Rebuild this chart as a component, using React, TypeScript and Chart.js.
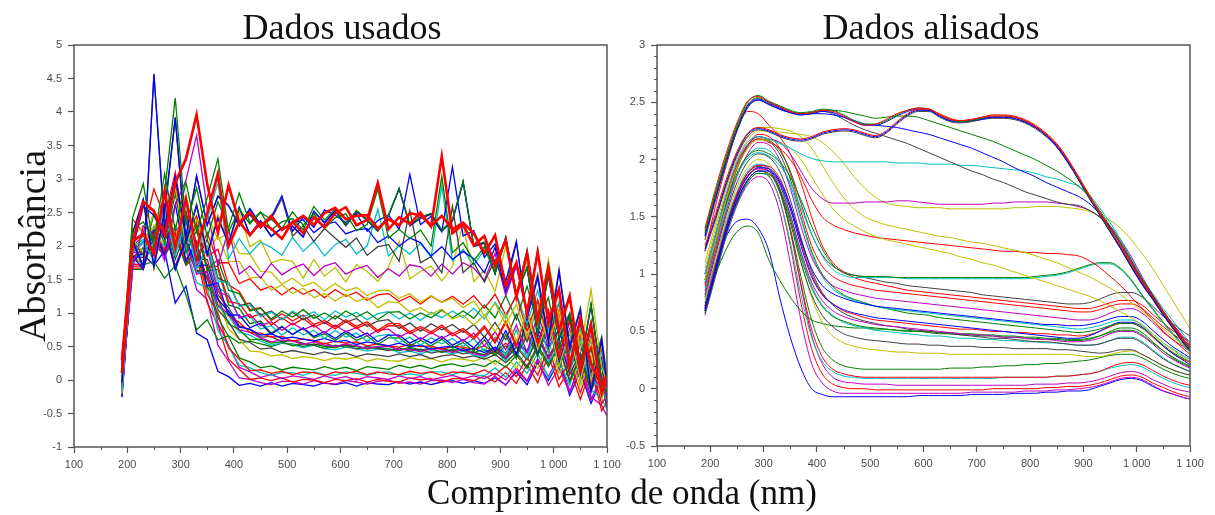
import React, { useEffect, useRef } from 'react';
import { Chart, registerables } from 'chart.js';

Chart.register(...registerables);

// Line colours (classic plot colour order)
const BLUE = '#0000ff';
const GREEN = '#008000';
const RED = '#ff0000';
const CYAN = '#00bfbf';
const MAGENTA = '#bf00bf';
const YELLOW = '#bfbf00';
const GRAY = '#404040';
const AXIS = '#555555';

// Wavelength grid (nm)
const WAVELENGTHS = [
  190, 210, 230, 250, 270, 290, 310, 330, 350, 370,
  390, 410, 430, 450, 470, 490, 510, 530, 550, 570,
  590, 610, 630, 650, 670, 690, 710, 730, 750, 770,
  790, 810, 830, 850, 870, 890, 910, 930, 950, 970,
  990, 1010, 1030, 1050, 1070, 1090, 1100,
];

const MINOR_X = [150, 250, 350, 450, 550, 650, 750, 850, 950, 1050];
const RIGHT_MINOR_Y = [
  -0.4, -0.3, -0.2, -0.1, 0.1, 0.2, 0.3, 0.4, 0.6, 0.7, 0.8, 0.9, 1.1, 1.2,
  1.3, 1.4, 1.6, 1.7, 1.8, 1.9, 2.1, 2.2, 2.3, 2.4, 2.6, 2.7, 2.8, 2.9,
];

// ---- Smoothed absorbance spectra ----
const T_GREEN = [1.38,1.72,2.03,2.3,2.5,2.56,2.51,2.47,2.43,2.41, 2.42,2.44,2.43,2.39,2.34,2.31,2.31,2.34,2.39,2.43, 2.45,2.44,2.39,2.35,2.33,2.34,2.36,2.38,2.38,2.37, 2.34,2.29,2.22,2.13,2.0,1.84,1.68,1.53,1.38,1.24, 1.08,0.93,0.8,0.66,0.53,0.4,0.35];
const T_BLUE = [1.34,1.68,2.0,2.27,2.47,2.53,2.49,2.45,2.41,2.39, 2.4,2.42,2.41,2.37,2.33,2.3,2.3,2.33,2.38,2.42, 2.44,2.43,2.38,2.34,2.33,2.34,2.35,2.37,2.37,2.36, 2.33,2.28,2.21,2.11,1.98,1.83,1.67,1.52,1.37,1.22, 1.06,0.91,0.78,0.64,0.52,0.39,0.34];
const T_RED = [1.4,1.75,2.06,2.32,2.51,2.55,2.5,2.46,2.42,2.4, 2.41,2.43,2.42,2.38,2.33,2.3,2.31,2.35,2.4,2.43, 2.45,2.44,2.4,2.36,2.34,2.35,2.37,2.39,2.39,2.38, 2.35,2.3,2.23,2.14,2.01,1.86,1.7,1.55,1.4,1.26, 1.1,0.95,0.81,0.67,0.54,0.42,0.37];
const T2_BLUE = [1.22,1.5,1.8,2.05,2.22,2.27,2.25,2.21,2.18,2.17, 2.19,2.23,2.25,2.26,2.25,2.22,2.2,2.24,2.32,2.39, 2.43,2.43,2.38,2.34,2.33,2.34,2.36,2.37,2.37,2.36, 2.33,2.28,2.21,2.12,1.99,1.84,1.68,1.53,1.38,1.23, 1.07,0.92,0.79,0.65,0.52,0.39,0.34];
const T2_RED = [1.25,1.53,1.83,2.07,2.23,2.28,2.26,2.22,2.19,2.18, 2.2,2.24,2.26,2.27,2.26,2.23,2.21,2.25,2.33,2.4, 2.44,2.44,2.39,2.35,2.34,2.35,2.37,2.38,2.38,2.37, 2.34,2.29,2.22,2.13,2.0,1.85,1.69,1.54,1.39,1.24, 1.08,0.93,0.8,0.66,0.53,0.4,0.35];
const T2_GRAY = [1.2,1.48,1.78,2.03,2.2,2.26,2.24,2.2,2.17,2.16, 2.18,2.22,2.24,2.25,2.24,2.21,2.19,2.23,2.31,2.38, 2.42,2.42,2.37,2.33,2.32,2.33,2.35,2.36,2.36,2.35, 2.32,2.27,2.2,2.11,1.98,1.83,1.67,1.52,1.37,1.22, 1.06,0.91,0.78,0.64,0.51,0.38,0.33];
const TG_GREEN = [1.36,1.7,2.01,2.28,2.48,2.54,2.5,2.46,2.42,2.4, 2.41,2.43,2.43,2.42,2.4,2.38,2.36,2.37,2.38,2.38, 2.37,2.34,2.31,2.28,2.25,2.22,2.19,2.16,2.12,2.08, 2.04,2.0,1.95,1.9,1.84,1.77,1.68,1.56,1.42,1.27, 1.11,0.95,0.81,0.67,0.54,0.41,0.36];
const TB_BLUE = [1.33,1.67,1.99,2.26,2.46,2.52,2.48,2.44,2.41,2.39, 2.4,2.4,2.39,2.37,2.34,2.31,2.3,2.29,2.28,2.26, 2.24,2.22,2.19,2.16,2.13,2.1,2.06,2.02,1.98,1.93, 1.89,1.85,1.8,1.76,1.72,1.68,1.62,1.53,1.41,1.26, 1.1,0.94,0.8,0.66,0.53,0.4,0.35];
const TK_GRAY = [1.3,1.65,1.97,2.25,2.45,2.52,2.48,2.44,2.41,2.4, 2.41,2.42,2.4,2.35,2.3,2.26,2.23,2.2,2.17,2.14, 2.1,2.06,2.02,1.98,1.94,1.9,1.87,1.83,1.8,1.76, 1.72,1.69,1.66,1.63,1.61,1.6,1.56,1.5,1.41,1.28, 1.12,0.96,0.82,0.68,0.55,0.42,0.37];
const M1_CYAN = [1.0,1.35,1.7,1.98,2.15,2.2,2.18,2.14,2.1,2.05, 2.01,1.99,1.98,1.98,1.98,1.98,1.98,1.98,1.97,1.97, 1.97,1.96,1.96,1.96,1.95,1.95,1.94,1.93,1.92,1.91, 1.9,1.88,1.85,1.83,1.8,1.77,1.7,1.58,1.45,1.3, 1.13,0.97,0.83,0.7,0.58,0.46,0.4];
const M2_MAGENTA = [1.0,1.35,1.7,1.97,2.13,2.2,2.18,2.15,2.05,1.9, 1.75,1.66,1.62,1.62,1.62,1.63,1.63,1.63,1.64,1.64, 1.63,1.62,1.61,1.61,1.61,1.61,1.61,1.62,1.62,1.63, 1.63,1.63,1.63,1.62,1.61,1.59,1.56,1.5,1.42,1.3, 1.15,0.98,0.82,0.67,0.55,0.44,0.38];
const Y1_YELLOW = [1.05,1.4,1.75,2.0,2.17,2.25,2.25,2.24,2.23,2.22, 2.2,2.15,2.07,1.97,1.85,1.75,1.67,1.62,1.6,1.59, 1.58,1.58,1.58,1.57,1.57,1.57,1.57,1.57,1.57,1.58, 1.58,1.59,1.59,1.59,1.58,1.57,1.55,1.51,1.47,1.4, 1.3,1.18,1.05,0.9,0.75,0.6,0.52];
const Y2_YELLOW = [1.1,1.45,1.8,2.05,2.2,2.28,2.28,2.27,2.25,2.2, 2.1,1.95,1.8,1.67,1.57,1.5,1.46,1.43,1.41,1.39, 1.37,1.35,1.33,1.32,1.3,1.28,1.27,1.25,1.23,1.21, 1.19,1.16,1.13,1.1,1.06,1.02,0.98,0.93,0.88,0.82, 0.75,0.68,0.6,0.52,0.44,0.37,0.33];
const Y3_YELLOW = [0.95,1.3,1.65,1.93,2.1,2.17,2.17,2.15,2.1,2.0, 1.85,1.7,1.57,1.48,1.42,1.37,1.33,1.3,1.28,1.26, 1.24,1.22,1.2,1.18,1.15,1.13,1.1,1.08,1.05,1.02, 0.99,0.96,0.93,0.9,0.87,0.84,0.81,0.77,0.72,0.67, 0.62,0.55,0.48,0.4,0.33,0.27,0.24];
const M5_RED = [1.0,1.35,1.68,1.95,2.12,2.18,2.15,2.1,2.0,1.85, 1.65,1.5,1.43,1.39,1.36,1.34,1.32,1.31,1.3,1.29, 1.28,1.27,1.26,1.25,1.24,1.23,1.22,1.21,1.2,1.2, 1.19,1.19,1.18,1.18,1.17,1.16,1.12,1.06,0.98,0.9, 0.8,0.7,0.6,0.5,0.42,0.34,0.3];
const M7_GREEN = [0.95,1.3,1.62,1.88,2.03,2.08,2.05,1.98,1.85,1.65, 1.42,1.22,1.08,1.01,0.99,0.98,0.98,0.98,0.97,0.97, 0.97,0.97,0.97,0.97,0.97,0.97,0.97,0.97,0.97,0.97, 0.97,0.98,0.99,1.0,1.02,1.05,1.08,1.1,1.1,1.05, 0.95,0.82,0.7,0.58,0.47,0.37,0.33];
const M7_CYAN = [0.93,1.28,1.6,1.86,2.01,2.06,2.03,1.95,1.8,1.58, 1.35,1.16,1.04,0.99,0.97,0.97,0.97,0.97,0.97,0.96, 0.96,0.96,0.96,0.96,0.96,0.96,0.96,0.96,0.96,0.96, 0.96,0.97,0.98,0.99,1.01,1.04,1.07,1.09,1.09,1.04, 0.94,0.81,0.69,0.57,0.46,0.36,0.32];
const R243_RED = [1.2,1.6,1.95,2.25,2.42,2.4,2.3,2.2,2.05,1.8, 1.5,1.25,1.1,1.02,0.97,0.94,0.92,0.9,0.88,0.86, 0.85,0.84,0.83,0.82,0.81,0.8,0.79,0.78,0.77,0.76, 0.75,0.74,0.73,0.72,0.71,0.7,0.7,0.72,0.75,0.77, 0.77,0.73,0.65,0.57,0.5,0.44,0.41];
const B1_GRAY = [0.95,1.3,1.65,1.93,2.12,2.2,2.17,2.08,1.9,1.62, 1.35,1.17,1.07,1.02,0.99,0.97,0.95,0.93,0.92,0.9, 0.89,0.88,0.87,0.86,0.85,0.84,0.82,0.81,0.8,0.79, 0.78,0.77,0.76,0.75,0.74,0.74,0.75,0.78,0.82,0.84, 0.84,0.8,0.72,0.63,0.56,0.49,0.46];
const B2_RED = [0.9,1.25,1.62,1.92,2.12,2.22,2.2,2.1,1.88,1.55, 1.25,1.07,0.98,0.93,0.9,0.88,0.86,0.85,0.84,0.83, 0.82,0.81,0.8,0.79,0.78,0.77,0.76,0.75,0.74,0.73, 0.72,0.71,0.7,0.69,0.68,0.67,0.67,0.69,0.72,0.74, 0.74,0.7,0.62,0.54,0.47,0.41,0.38];
const B3_MAGENTA = [0.85,1.2,1.55,1.85,2.05,2.15,2.13,2.0,1.75,1.42, 1.15,0.99,0.9,0.86,0.83,0.81,0.79,0.78,0.77,0.76, 0.75,0.74,0.73,0.72,0.71,0.7,0.69,0.68,0.67,0.66, 0.65,0.64,0.63,0.62,0.61,0.6,0.6,0.62,0.66,0.69, 0.7,0.66,0.58,0.49,0.42,0.36,0.33];
const B4_BLUE = [0.7,1.05,1.4,1.67,1.85,1.93,1.92,1.82,1.6,1.3, 1.05,0.9,0.83,0.79,0.76,0.74,0.72,0.71,0.7,0.69, 0.68,0.67,0.66,0.65,0.64,0.63,0.62,0.61,0.6,0.59, 0.58,0.57,0.56,0.56,0.55,0.55,0.56,0.58,0.61,0.63, 0.63,0.59,0.51,0.43,0.36,0.3,0.27];
const B5_CYAN = [0.88,1.22,1.58,1.86,2.03,2.1,2.08,1.98,1.78,1.48, 1.18,0.98,0.87,0.81,0.77,0.74,0.72,0.7,0.69,0.68, 0.67,0.66,0.65,0.64,0.63,0.62,0.61,0.6,0.59,0.58, 0.57,0.56,0.55,0.54,0.53,0.52,0.53,0.55,0.58,0.6, 0.6,0.56,0.48,0.4,0.34,0.28,0.26];
const B6_GREEN = [0.92,1.28,1.63,1.92,2.1,2.18,2.16,2.05,1.83,1.5, 1.2,1.0,0.89,0.82,0.78,0.75,0.72,0.7,0.68,0.66, 0.65,0.64,0.62,0.61,0.6,0.59,0.58,0.57,0.56,0.55, 0.54,0.53,0.52,0.51,0.5,0.49,0.5,0.52,0.55,0.57, 0.57,0.53,0.46,0.38,0.31,0.26,0.24];
const B7_BLUE = [0.68,1.02,1.37,1.64,1.82,1.9,1.9,1.8,1.57,1.25, 0.98,0.82,0.74,0.69,0.66,0.64,0.62,0.61,0.6,0.59, 0.58,0.57,0.56,0.55,0.54,0.53,0.52,0.51,0.5,0.49, 0.48,0.47,0.46,0.45,0.44,0.44,0.46,0.5,0.55,0.58, 0.58,0.54,0.46,0.37,0.3,0.24,0.21];
const B8_RED = [0.72,1.08,1.42,1.7,1.88,1.95,1.94,1.84,1.6,1.28, 1.0,0.83,0.74,0.68,0.65,0.62,0.6,0.59,0.58,0.57, 0.56,0.55,0.54,0.53,0.52,0.52,0.51,0.5,0.5,0.49, 0.49,0.48,0.48,0.47,0.47,0.46,0.47,0.5,0.54,0.57, 0.57,0.53,0.45,0.37,0.3,0.25,0.23];
const B9_MAGENTA = [0.7,1.05,1.4,1.68,1.86,1.92,1.9,1.78,1.52,1.2, 0.93,0.77,0.68,0.63,0.6,0.58,0.56,0.55,0.54,0.53, 0.52,0.51,0.5,0.49,0.48,0.47,0.47,0.46,0.45,0.45, 0.44,0.43,0.43,0.42,0.41,0.41,0.42,0.44,0.48,0.5, 0.5,0.46,0.39,0.31,0.25,0.2,0.18];
const B10_GRAY = [0.82,1.17,1.52,1.8,1.98,2.05,2.02,1.9,1.65,1.32, 1.03,0.84,0.73,0.66,0.62,0.59,0.57,0.55,0.54,0.52, 0.51,0.5,0.49,0.48,0.47,0.46,0.45,0.44,0.44,0.43, 0.42,0.41,0.41,0.4,0.39,0.38,0.38,0.39,0.42,0.44, 0.44,0.4,0.33,0.26,0.21,0.17,0.15];
const B11_GREEN = [0.66,1.0,1.35,1.62,1.8,1.88,1.87,1.75,1.48,1.15, 0.88,0.72,0.63,0.59,0.56,0.54,0.53,0.52,0.51,0.5, 0.5,0.49,0.48,0.48,0.47,0.47,0.46,0.46,0.45,0.45, 0.44,0.44,0.43,0.43,0.42,0.42,0.43,0.46,0.5,0.53, 0.53,0.49,0.41,0.33,0.26,0.21,0.19];
const B12_CYAN = [0.75,1.1,1.45,1.72,1.9,1.96,1.93,1.8,1.52,1.18, 0.9,0.73,0.64,0.58,0.55,0.53,0.51,0.5,0.49,0.48, 0.47,0.46,0.46,0.45,0.44,0.44,0.43,0.43,0.42,0.42, 0.41,0.41,0.4,0.4,0.39,0.38,0.38,0.39,0.42,0.45, 0.45,0.41,0.34,0.27,0.21,0.17,0.15];
const B13_GRAY = [0.72,1.07,1.42,1.7,1.88,1.94,1.9,1.74,1.45,1.1, 0.82,0.64,0.54,0.48,0.45,0.43,0.42,0.41,0.4,0.39, 0.39,0.38,0.38,0.37,0.37,0.37,0.36,0.36,0.36,0.35, 0.35,0.35,0.35,0.34,0.34,0.33,0.32,0.31,0.32,0.34, 0.34,0.3,0.25,0.2,0.16,0.13,0.12];
const B14_YELLOW = [0.78,1.13,1.48,1.76,1.93,2.0,1.96,1.8,1.5,1.12, 0.8,0.58,0.46,0.4,0.37,0.35,0.34,0.33,0.32,0.32, 0.31,0.31,0.31,0.3,0.3,0.3,0.3,0.3,0.3,0.3, 0.3,0.3,0.3,0.3,0.3,0.29,0.28,0.28,0.3,0.32, 0.33,0.3,0.25,0.2,0.16,0.13,0.12];
const B15_GREEN = [0.75,1.0,1.22,1.37,1.42,1.36,1.12,0.95,0.8,0.68, 0.6,0.57,0.55,0.54,0.53,0.53,0.52,0.52,0.51,0.51, 0.5,0.5,0.49,0.49,0.48,0.48,0.47,0.47,0.46,0.46, 0.45,0.45,0.44,0.44,0.43,0.43,0.44,0.46,0.49,0.51, 0.51,0.47,0.4,0.33,0.27,0.22,0.2];
const L1_GREEN = [0.68,1.02,1.37,1.64,1.82,1.9,1.88,1.72,1.4,0.98, 0.6,0.36,0.25,0.2,0.18,0.17,0.17,0.17,0.17,0.17, 0.17,0.17,0.17,0.18,0.18,0.18,0.19,0.19,0.2,0.2, 0.21,0.21,0.22,0.22,0.23,0.24,0.25,0.27,0.29,0.3, 0.3,0.27,0.22,0.17,0.13,0.1,0.09];
const L2_RED = [0.7,1.05,1.4,1.67,1.85,1.92,1.9,1.72,1.38,0.92, 0.52,0.28,0.17,0.13,0.11,0.1,0.1,0.1,0.1,0.1, 0.1,0.1,0.1,0.1,0.1,0.1,0.1,0.1,0.1,0.1, 0.1,0.1,0.1,0.11,0.11,0.12,0.13,0.15,0.19,0.22, 0.23,0.21,0.16,0.11,0.07,0.04,0.03];
const L3_CYAN = [0.66,1.0,1.35,1.62,1.8,1.88,1.85,1.65,1.28,0.82, 0.45,0.24,0.15,0.11,0.1,0.09,0.09,0.09,0.09,0.09, 0.09,0.09,0.09,0.09,0.09,0.09,0.09,0.09,0.1,0.1, 0.1,0.1,0.1,0.11,0.11,0.12,0.13,0.15,0.18,0.2, 0.21,0.19,0.14,0.09,0.05,0.02,0.01];
const L4_MAGENTA = [0.72,1.07,1.42,1.7,1.88,1.95,1.92,1.74,1.38,0.9, 0.47,0.22,0.1,0.06,0.05,0.04,0.04,0.04,0.03,0.03, 0.03,0.03,0.03,0.03,0.03,0.03,0.03,0.03,0.03,0.03, 0.03,0.04,0.04,0.04,0.05,0.05,0.06,0.08,0.11,0.14, 0.15,0.13,0.08,0.04,0.0,-0.02,-0.03];
const L5_RED = [0.68,1.02,1.37,1.64,1.82,1.9,1.86,1.65,1.25,0.75, 0.35,0.13,0.04,0.01,0.0,0.0,-0.01,-0.01,-0.01,-0.01, -0.01,-0.01,-0.01,-0.01,-0.01,-0.01,-0.01,0.0,0.0,0.0, 0.0,0.0,0.01,0.01,0.02,0.02,0.03,0.05,0.08,0.11, 0.12,0.1,0.05,0.01,-0.03,-0.06,-0.07];
const L6_MAGENTA = [0.64,0.98,1.33,1.6,1.78,1.85,1.8,1.55,1.1,0.6, 0.22,0.05,-0.02,-0.04,-0.04,-0.04,-0.04,-0.04,-0.04,-0.04, -0.04,-0.04,-0.04,-0.04,-0.04,-0.03,-0.03,-0.03,-0.03,-0.03, -0.02,-0.02,-0.02,-0.01,-0.01,0.0,0.01,0.03,0.06,0.09, 0.1,0.08,0.03,-0.02,-0.05,-0.08,-0.09];
const L7_BLUE = [0.8,1.1,1.33,1.46,1.48,1.4,1.2,0.8,0.45,0.18, 0.0,-0.05,-0.07,-0.07,-0.07,-0.07,-0.07,-0.07,-0.07,-0.07, -0.06,-0.06,-0.06,-0.06,-0.06,-0.05,-0.05,-0.05,-0.05,-0.04, -0.04,-0.04,-0.03,-0.03,-0.02,-0.02,-0.01,0.02,0.05,0.08, 0.09,0.07,0.02,-0.02,-0.05,-0.08,-0.09];

// ---- Measurement residuals (raw minus smoothed) ----
const HI1 = [-1.15,0.55,0.35,-0.2,0.6,-0.3,0.45,-0.25,0.3,0.9, -0.2,0.12,-0.1,0.08,0.0,-0.12,0.15,-0.06,0.1,-0.12, 0.05,0.14,-0.08,0.04,0.6,-0.1,0.06,-0.05,0.12,-0.08, 1.0,-0.1,0.1,-0.12,0.15,-0.15,0.4,-0.3,0.5,-0.35, 0.6,-0.2,0.45,-0.5,0.3,-0.6,-0.35];
const HI2 = [-1.0,0.4,-0.3,2.3,-0.2,0.5,-0.35,0.6,-0.1,0.35, 0.2,-0.12,0.15,-0.05,0.1,0.45,-0.08,0.1,-0.1,0.12, 0.02,-0.08,0.1,-0.12,0.05,0.12,-0.1,0.7,-0.05,0.08, -0.12,0.9,-0.06,0.12,-0.15,0.2,-0.2,0.55,-0.45,0.3, -0.5,0.7,-0.3,0.4,-0.7,0.2,-0.45];
const HI3 = [-1.25,0.7,0.9,-0.35,0.3,1.65,-0.2,0.4,-0.3,0.25, -0.15,0.35,-0.08,0.12,-0.1,0.05,0.1,-0.1,0.2,-0.04, 0.1,-0.12,0.14,0.05,-0.1,0.12,0.5,-0.06,0.05,0.12, -0.1,0.1,0.75,-0.12,0.06,-0.25,0.45,-0.25,0.3,-0.55, 0.5,-0.3,0.2,-0.45,0.6,-0.4,-0.55];
const HI4 = [-1.1,0.3,0.6,0.2,-0.35,0.4,0.8,1.5,0.5,-0.2, 0.5,-0.08,0.08,-0.1,0.12,-0.06,0.04,0.1,-0.08,0.06, 0.12,-0.04,0.05,0.1,-0.08,0.05,-0.06,0.1,0.07,-0.08, 0.1,-0.05,0.12,0.05,-0.12,0.3,-0.3,0.2,-0.4,0.65, -0.25,0.4,-0.6,0.25,-0.3,-0.5,-0.3];
const MD1 = [-1.0,0.7,0.5,0.2,0.5,-0.2,0.35,-0.3,0.2,-0.1, 0.1,-0.06,0.08,-0.05,0.04,-0.07,0.06,-0.03,0.05,-0.06, 0.07,-0.02,0.05,-0.06,0.03,0.06,-0.05,0.04,-0.07,0.05, -0.03,0.06,-0.05,0.08,-0.1,0.12,-0.15,0.2,-0.25,0.3, -0.2,0.35,-0.3,0.2,-0.45,0.15,-0.4];
const MD2 = [-0.95,0.8,0.25,0.6,0.0,0.7,-0.15,0.25,-0.2,0.15, -0.08,0.07,-0.05,0.06,-0.08,0.05,-0.04,0.07,-0.05,0.03, -0.06,0.06,-0.03,0.05,-0.07,0.04,0.05,-0.06,0.03,-0.04, 0.07,-0.05,0.04,-0.08,0.1,-0.12,0.18,-0.2,0.3,-0.22, 0.28,-0.35,0.25,-0.4,0.3,-0.5,-0.3];
const LO1 = [-0.85,0.75,0.55,0.25,0.45,-0.25,0.2,-0.1,0.15,-0.05, 0.05,-0.03,0.02,-0.02,0.03,-0.02,0.02,0.0,-0.02,0.03, -0.01,0.02,-0.03,0.02,0.0,-0.02,0.03,-0.01,0.02,-0.03, 0.01,0.03,-0.02,0.02,-0.03,0.05,-0.06,0.1,-0.12,0.18, -0.1,0.22,-0.25,0.15,-0.3,0.1,-0.35];
const LO2 = [-0.75,0.65,0.3,0.55,0.05,0.25,-0.15,0.2,-0.1,0.08, -0.04,0.03,-0.03,0.02,-0.01,0.03,-0.02,0.02,0.01,-0.03, 0.02,0.0,0.03,-0.02,0.02,-0.01,-0.02,0.03,0.0,0.02, -0.03,0.02,0.01,-0.02,0.04,-0.05,0.08,-0.1,0.15,-0.15, 0.25,-0.2,0.12,-0.3,0.2,-0.4,-0.25];
const LO3 = [-0.9,0.85,0.5,0.4,0.1,0.35,0.15,-0.2,0.1,-0.08, 0.06,-0.02,0.03,0.0,-0.03,0.02,0.02,-0.02,0.03,-0.01, -0.02,0.03,0.01,-0.02,0.02,0.03,-0.02,0.0,-0.03,0.02, 0.02,-0.02,0.03,-0.03,-0.05,0.06,-0.09,0.12,-0.08,0.2, -0.18,0.1,-0.22,0.3,-0.2,-0.3,-0.45];

// Each sample: smoothed spectrum, its residual and its line colour (first = drawn on top)
const SAMPLES = [
  { smooth: T_RED, residual: HI4, color: RED },
  { smooth: T2_RED, residual: HI1, color: RED },
  { smooth: T_GREEN, residual: HI3, color: GREEN },
  { smooth: TG_GREEN, residual: HI1, color: GREEN },
  { smooth: T_BLUE, residual: HI2, color: BLUE },
  { smooth: T2_BLUE, residual: HI3, color: BLUE },
  { smooth: TB_BLUE, residual: HI4, color: BLUE },
  { smooth: T2_GRAY, residual: HI3, color: GRAY },
  { smooth: TK_GRAY, residual: HI2, color: GRAY },
  { smooth: M1_CYAN, residual: HI1, color: CYAN },
  { smooth: M2_MAGENTA, residual: HI4, color: MAGENTA },
  { smooth: Y1_YELLOW, residual: HI3, color: YELLOW },
  { smooth: Y2_YELLOW, residual: MD1, color: YELLOW },
  { smooth: Y3_YELLOW, residual: MD2, color: YELLOW },
  { smooth: M5_RED, residual: MD1, color: RED },
  { smooth: M7_GREEN, residual: MD2, color: GREEN },
  { smooth: M7_CYAN, residual: MD1, color: CYAN },
  { smooth: R243_RED, residual: MD2, color: RED },
  { smooth: B1_GRAY, residual: MD1, color: GRAY },
  { smooth: B2_RED, residual: MD2, color: RED },
  { smooth: B3_MAGENTA, residual: MD1, color: MAGENTA },
  { smooth: B4_BLUE, residual: MD2, color: BLUE },
  { smooth: B5_CYAN, residual: MD1, color: CYAN },
  { smooth: B6_GREEN, residual: MD2, color: GREEN },
  { smooth: B7_BLUE, residual: LO1, color: BLUE },
  { smooth: B8_RED, residual: LO2, color: RED },
  { smooth: B9_MAGENTA, residual: LO3, color: MAGENTA },
  { smooth: B10_GRAY, residual: LO1, color: GRAY },
  { smooth: B11_GREEN, residual: LO2, color: GREEN },
  { smooth: B12_CYAN, residual: LO3, color: CYAN },
  { smooth: B13_GRAY, residual: LO1, color: GRAY },
  { smooth: B14_YELLOW, residual: LO2, color: YELLOW },
  { smooth: B15_GREEN, residual: LO3, color: GREEN },
  { smooth: L1_GREEN, residual: LO1, color: GREEN },
  { smooth: L2_RED, residual: LO2, color: RED },
  { smooth: L3_CYAN, residual: LO3, color: CYAN },
  { smooth: L4_MAGENTA, residual: LO1, color: MAGENTA },
  { smooth: L5_RED, residual: LO2, color: RED },
  { smooth: L6_MAGENTA, residual: LO3, color: MAGENTA },
  { smooth: L7_BLUE, residual: LO1, color: BLUE },
];

// The two red top-band raw spectra are drawn heavier so their dense noise reads as a band
const HEAVY_RAW_COUNT = 2;

const SERIF = '"Liberation Serif", "Times New Roman", serif';
const SANS = '"Liberation Sans", Arial, sans-serif';

function formatWavelength(v: number): string {
  const s = String(Math.round(v));
  return s.length > 3 ? s.slice(0, s.length - 3) + ' ' + s.slice(-3) : s;
}

// Draws the closed frame around the plot area and the minor tick marks
const framePlugin = {
  id: 'frame',
  afterDraw(chart: any, _args: any, opts: any) {
    const { ctx, chartArea: a, scales } = chart;
    ctx.save();
    ctx.strokeStyle = AXIS;
    ctx.lineWidth = 1.5;
    ctx.strokeRect(a.left, a.top, a.right - a.left, a.bottom - a.top);
    ctx.lineWidth = 1;
    ctx.beginPath();
    for (const v of opts.minorX || []) {
      const x = Math.round(scales.x.getPixelForValue(v)) + 0.5;
      ctx.moveTo(x, a.bottom);
      ctx.lineTo(x, a.bottom + 3);
    }
    for (const v of opts.minorY || []) {
      const y = Math.round(scales.y.getPixelForValue(v)) + 0.5;
      ctx.moveTo(a.left - 3, y);
      ctx.lineTo(a.left, y);
    }
    ctx.stroke();
    ctx.restore();
  },
};

type PanelProps = {
  left: number;
  width: number;
  height: number;
  padding: { left: number; right: number; top: number; bottom: number };
  yMin: number;
  yMax: number;
  minorY: number[];
  raw: boolean;
};

function SpectraPanel({ left, width, height, padding, yMin, yMax, minorY, raw }: PanelProps) {
  const ref = useRef<HTMLCanvasElement | null>(null);

  useEffect(() => {
    if (!ref.current) return;
    const datasets = SAMPLES.map((s, k) => ({
      data: WAVELENGTHS.map((w, i) => ({ x: w, y: raw ? s.smooth[i] + s.residual[i] : s.smooth[i] })),
      borderColor: s.color,
      borderWidth: raw ? (k < HEAVY_RAW_COUNT ? 2.6 : 1.3) : 1,
      pointRadius: 0,
      fill: false,
      tension: 0,
      cubicInterpolationMode: raw ? 'default' : 'monotone',
    }));
    const tickFont = { family: SANS, size: 11 };
    const grid = {
      display: true,
      drawOnChartArea: false,
      drawTicks: true,
      tickLength: 6,
      tickColor: AXIS,
      tickWidth: 1.2,
      color: AXIS,
    };
    const chart = new Chart(ref.current, {
      type: 'line',
      data: { datasets } as any,
      options: {
        responsive: false,
        animation: false,
        layout: { padding },
        plugins: {
          legend: { display: false },
          tooltip: { enabled: false },
          frame: { minorX: MINOR_X, minorY },
        } as any,
        scales: {
          x: {
            type: 'linear',
            min: 100,
            max: 1100,
            ticks: {
              stepSize: 100,
              autoSkip: false,
              maxRotation: 0,
              padding: 5,
              color: '#4a4a4a',
              font: tickFont,
              callback: (v: any) => formatWavelength(Number(v)),
            },
            grid,
            border: { display: false },
            afterFit: (s: any) => {
              s.height = 30;
            },
          },
          y: {
            type: 'linear',
            min: yMin,
            max: yMax,
            ticks: {
              stepSize: 0.5,
              padding: 6,
              color: '#4a4a4a',
              font: tickFont,
              callback: (v: any) => String(Math.round(Number(v) * 10) / 10),
            },
            grid,
            border: { display: false },
            afterFit: (s: any) => {
              s.width = 40;
            },
          },
        },
      } as any,
      plugins: [framePlugin],
    });
    return () => chart.destroy();
  }, []);

  return (
    <canvas
      ref={ref}
      width={width}
      height={height}
      style={{ position: 'absolute', left, top: 0, width, height }}
    />
  );
}

export default function App() {
  const label = { position: 'absolute' as const, lineHeight: 1, whiteSpace: 'nowrap' as const, color: '#111' };
  return (
    <div
      style={{
        position: 'absolute',
        left: 0,
        top: 0,
        width: 1215,
        height: 515,
        background: '#ffffff',
        overflow: 'hidden',
      }}
    >
      <SpectraPanel
        left={0}
        width={630}
        height={515}
        padding={{ left: 34, right: 23, top: 45, bottom: 38 }}
        yMin={-1}
        yMax={5}
        minorY={[]}
        raw={true}
      />
      <SpectraPanel
        left={600}
        width={615}
        height={515}
        padding={{ left: 17, right: 25, top: 45, bottom: 39 }}
        yMin={-0.5}
        yMax={3}
        minorY={RIGHT_MINOR_Y}
        raw={false}
      />
      <div style={{ ...label, left: 342, top: 6, transform: 'translateX(-50%)', font: `36px ${SERIF}` }}>
        Dados usados
      </div>
      <div style={{ ...label, left: 931, top: 6, transform: 'translateX(-50%)', font: `36px ${SERIF}` }}>
        Dados alisados
      </div>
      <div
        style={{
          ...label,
          left: 32,
          top: 246,
          transform: 'translate(-50%, -50%) rotate(-90deg)',
          font: `38px ${SERIF}`,
        }}
      >
        Absorbância
      </div>
      <div style={{ ...label, left: 622, top: 473, transform: 'translateX(-50%)', font: `35px ${SERIF}` }}>
        Comprimento de onda (nm)
      </div>
    </div>
  );
}
